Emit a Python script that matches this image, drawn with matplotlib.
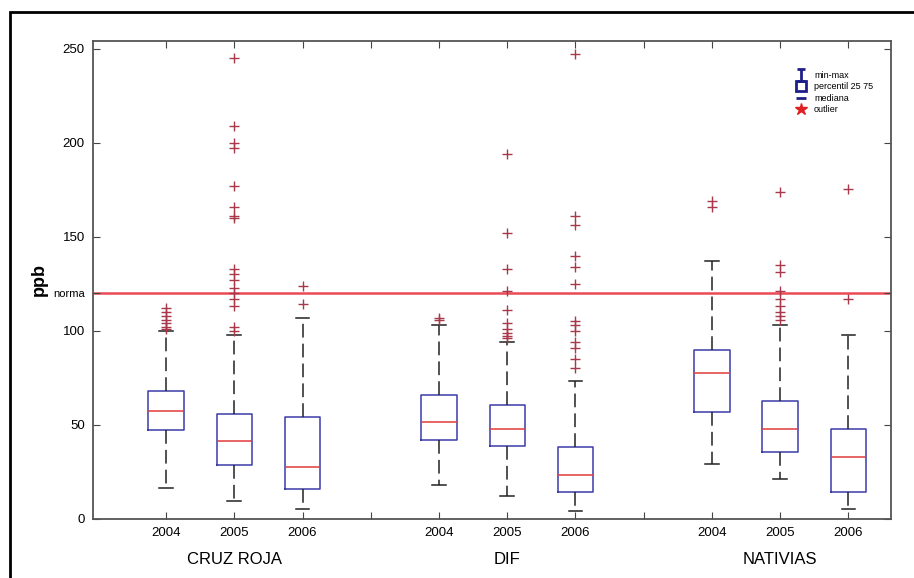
import matplotlib
matplotlib.use('Agg')
import matplotlib.pyplot as plt
from matplotlib.lines import Line2D
from matplotlib.path import Path
from matplotlib.patches import Rectangle

plt.rcParams['font.family'] = ['Liberation Sans', 'DejaVu Sans']

# estaciones y años
groups = ['CRUZ ROJA', 'DIF', 'NATIVIAS']
years = ['2004', '2005', '2006']
positions = [1, 2, 3, 5, 6, 7, 9, 10, 11]

# estadisticos por caja (orden: CR 04-06, DIF 04-06, NAT 04-06), ppb
q1 = [47.5, 28.5, 15.8, 42.0, 39.0, 14.2, 57.1, 35.8, 14.5]
med = [57.4, 41.3, 27.5, 51.6, 47.9, 23.4, 77.5, 47.7, 33.1]
q3 = [68.0, 55.9, 54.0, 66.1, 60.5, 38.3, 89.9, 62.8, 47.7]
whislo = [16.3, 9.6, 5.2, 18.0, 12.4, 4.1, 29.3, 21.1, 5.1]
whishi = [100.0, 97.9, 107.0, 103.0, 94.3, 73.4, 137.2, 103.2, 97.9]
outliers = [
    [101, 102, 104, 106, 108, 110, 112],
    [245, 209, 200, 197, 177, 166, 161, 160, 133, 130, 127, 123, 120, 117, 113, 102, 100],
    [114, 124],
    [105.5, 107],
    [194, 152, 133, 121, 111, 104, 101, 99, 97, 96],
    [247, 161, 156, 140, 134, 125, 105, 103, 100, 94, 91, 85, 80],
    [169, 166],
    [174, 135, 131, 121, 117, 113, 110, 108, 106],
    [175.5, 117],
]
norma = 120

xtick_pos = list(range(1, 12))
xtick_labels = ['2004', '2005', '2006', '', '2004', '2005', '2006', '', '2004', '2005', '2006']
ytick_pos = [0, 50, 100, norma, 150, 200, 250]
ytick_labels = ['0', '50', '100', 'norma', '150', '200', '250']

box_col = '#3b3ba8'
med_col = '#e23a3a'
out_col = '#a8384a'

fig = plt.figure(figsize=(9.14, 5.78), dpi=100)
ax = fig.add_axes([0.1018, 0.1021, 0.8735, 0.8270])

stats = []
for i in range(len(positions)):
    stats.append({'med': med[i], 'q1': q1[i], 'q3': q3[i],
                  'whislo': whislo[i], 'whishi': whishi[i], 'fliers': outliers[i]})

ax.bxp(stats, positions=positions, widths=0.52, capwidths=0.2,
       boxprops=dict(color=box_col, linewidth=1.1),
       medianprops=dict(color=med_col, linewidth=1.1),
       whiskerprops=dict(color='#222222', linewidth=1.1, linestyle=(0, (9, 4))),
       capprops=dict(color='#222222', linewidth=1.1),
       flierprops=dict(marker='+', markeredgecolor=out_col, markersize=7, markeredgewidth=1.0))

ax.axhline(norma, color='#ea4a55', linewidth=1.8, zorder=0)

ax.set_xlim(-0.07, 11.63)
ax.set_ylim(0, 254)
ax.set_xticks(xtick_pos)
ax.set_xticklabels(xtick_labels, fontsize=9.5)
ax.set_yticks(ytick_pos)
ax.set_yticklabels(ytick_labels, fontsize=9.5)
for lab in ax.get_yticklabels():
    if lab.get_text() == 'norma':
        lab.set_fontsize(8)
ax.tick_params(direction='in', length=5, top=True, right=True, color='#444444', pad=6)
for s in ax.spines.values():
    s.set_color('#555555')
    s.set_linewidth(1.3)

ax.set_ylabel('ppb', fontsize=13, fontweight='bold', labelpad=4)

# nombres de estaciones bajo cada grupo
for g, name in enumerate(groups):
    center = positions[3 * g + 1]
    ax.text(center, -0.085, name, transform=ax.get_xaxis_transform(),
            ha='center', va='center', fontsize=12)

# leyenda
ibeam = Path([(-0.6, 1), (0.6, 1), (0, 1), (0, -1), (-0.6, -1), (0.6, -1)],
             [Path.MOVETO, Path.LINETO, Path.MOVETO, Path.LINETO, Path.MOVETO, Path.LINETO])
handles = [
    Line2D([], [], linestyle='none', marker=ibeam, markersize=9, markeredgecolor='#1f1f8a', markeredgewidth=2),
    Line2D([], [], linestyle='none', marker='s', markersize=7, markerfacecolor='none',
           markeredgecolor='#1f1f8a', markeredgewidth=2),
    Line2D([], [], linestyle='none', marker='_', markersize=7, markeredgecolor='#1f1f8a', markeredgewidth=2),
    Line2D([], [], linestyle='none', marker='*', markersize=9, color='#e02020'),
]
ax.legend(handles, ['min-max', 'percentil 25 75', 'mediana', 'outlier'],
          loc='upper right', bbox_to_anchor=(0.985, 0.95), frameon=False, fontsize=6.5,
          handlelength=1.0, handletextpad=0.9, labelspacing=0.25, borderpad=0.2)

# marco exterior de la figura
fig.patches.append(Rectangle((10 / 914, -0.1), 1.2, 1 - 12 / 578 + 0.1, transform=fig.transFigure,
                             fill=False, edgecolor='black', linewidth=2, figure=fig))

fig.savefig('out.png', dpi=100)
